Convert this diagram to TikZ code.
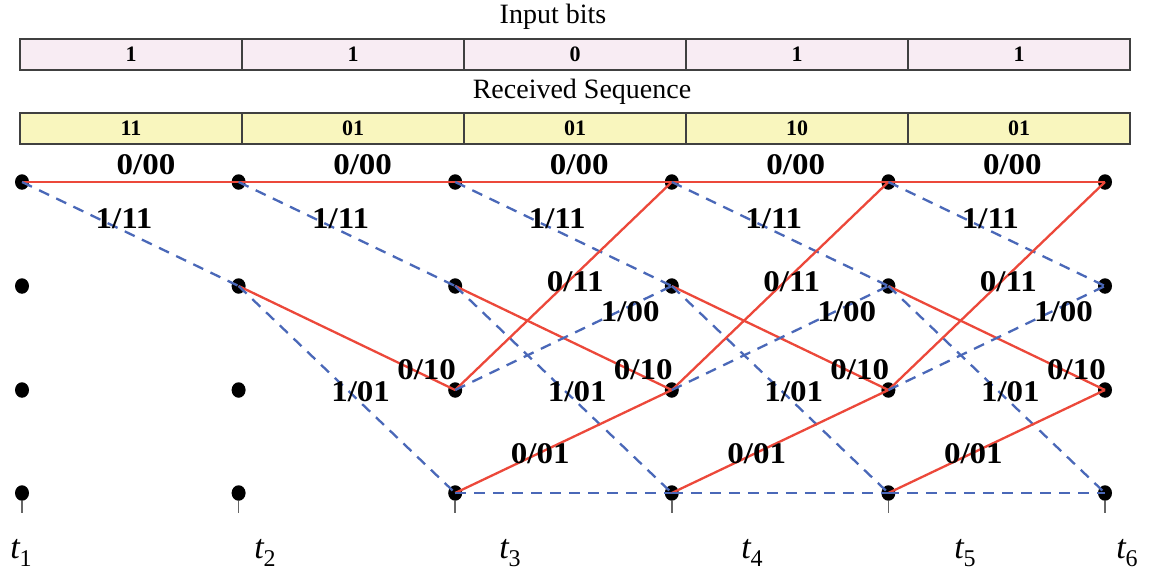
\documentclass[tikz,border=0pt]{standalone}
\usepackage{fontspec}
\setmainfont{Liberation Serif}
\usetikzlibrary{shapes.geometric}
\definecolor{tred}{RGB}{236,72,58}
\definecolor{tblue}{RGB}{74,104,184}
\definecolor{pinkfill}{RGB}{248,236,243}
\definecolor{yelfill}{RGB}{249,246,190}
\definecolor{boxline}{RGB}{64,64,64}
\newcommand{\tsub}[1]{{\itshape t}\raisebox{-0.22em}{\fontsize{24}{24}\selectfont #1}}
\newcommand{\wl}[1]{\scalebox{1.1}[1]{#1}}
\begin{document}
\begin{tikzpicture}[x=1pt,y=-1pt,
  dot/.style={ellipse,fill=black,inner sep=0pt,minimum width=14pt,minimum height=15.5pt},
  zero/.style={draw=tred,line width=2.3pt},
  one/.style={draw=tblue,line width=2.3pt,dash pattern=on 11pt off 8pt},
  lab/.style={font=\fontsize{30}{30}\selectfont\bfseries,inner sep=0pt,text=black},
  bitbox/.style={draw=boxline,line width=1.8pt,minimum width=222pt,minimum height=31pt,inner sep=0pt,font=\fontsize{22}{22}\selectfont\bfseries},
  head/.style={font=\fontsize{28}{28}\selectfont,inner sep=0pt},
  tlab/.style={font=\fontsize{34}{34}\selectfont,inner sep=0pt},
  tick/.style={draw=black!60,line width=1.5pt}]
\useasboundingbox (0,0) rectangle (1149,579);

% headers
\node[head] (hin) at (553,17) {Input bits};
\node[head] (hrx) at (582,92) {Received Sequence};

% bit boxes
\foreach \i/\b/\s in {1/1/11,2/1/01,3/0/01,4/1/10,5/1/01}{
  \node[bitbox,fill=pinkfill] (in\i) at ({131+222*(\i-1)},54.5) {\b};
  \node[bitbox,fill=yelfill] (rx\i) at ({131+222*(\i-1)},128.5) {\s};
}

% states
\foreach \c/\x in {1/22,2/238.6,3/455.2,4/671.8,5/888.4,6/1105}{
  \foreach \r/\y in {1/182,2/286,3/390,4/493}{
    \node[dot] (n\c\r) at (\x,\y) {};
  }
  \draw[tick] (n\c4.south) -- ++(0,12);
}

% time labels
\node[tlab] (t1) at (21,553) {\tsub{1}};
\node[tlab] (t2) at (265,553) {\tsub{2}};
\node[tlab] (t3) at (510,553) {\tsub{3}};
\node[tlab] (t4) at (752,553) {\tsub{4}};
\node[tlab] (t5) at (965,553) {\tsub{5}};
\node[tlab] (t6) at (1127,553) {\tsub{6}};

% branches t1 -> t2
\draw[zero] (n11.center) -- (n21.center);
\draw[one] (n11.center) -- (n22.center);
% t2 -> t3
\draw[zero] (n21.center) -- (n31.center);
\draw[one] (n21.center) -- (n32.center);
\draw[zero] (n22.center) -- (n33.center);
\draw[one] (n22.center) -- (n34.center);
% t3 .. t6
\foreach \a/\b in {3/4,4/5,5/6}{
  \draw[zero] (n\a1.center) -- (n\b1.center);
  \draw[one] (n\a1.center) -- (n\b2.center);
  \draw[zero] (n\a2.center) -- (n\b3.center);
  \draw[one] (n\a2.center) -- (n\b4.center);
  \draw[zero] (n\a3.center) -- (n\b1.center);
  \draw[one] (n\a3.center) -- (n\b2.center);
  \draw[zero] (n\a4.center) -- (n\b3.center);
  \draw[one] (n\a4.center) -- (n\b4.center);
}

% branch labels
\foreach \s/\x in {1/22,2/238.6,3/455.2,4/671.8,5/888.4}{
  \node[lab] (la\s) at (\x+124,165) {\wl{0/00}};
  \node[lab] (lb\s) at (\x+102,219) {\wl{1/11}};
}
\foreach \s/\x in {2/238.6,3/455.2,4/671.8,5/888.4}{
  \node[lab] (lc\s) at (\x+188,370) {\wl{0/10}};
  \node[lab] (ld\s) at (\x+122,392) {\wl{1/01}};
}
\foreach \s/\x in {3/455.2,4/671.8,5/888.4}{
  \node[lab] (le\s) at (\x+120,282) {\wl{0/11}};
  \node[lab] (lf\s) at (\x+175,312) {\wl{1/00}};
  \node[lab] (lg\s) at (\x+85,454) {\wl{0/01}};
}
\end{tikzpicture}
\end{document}
